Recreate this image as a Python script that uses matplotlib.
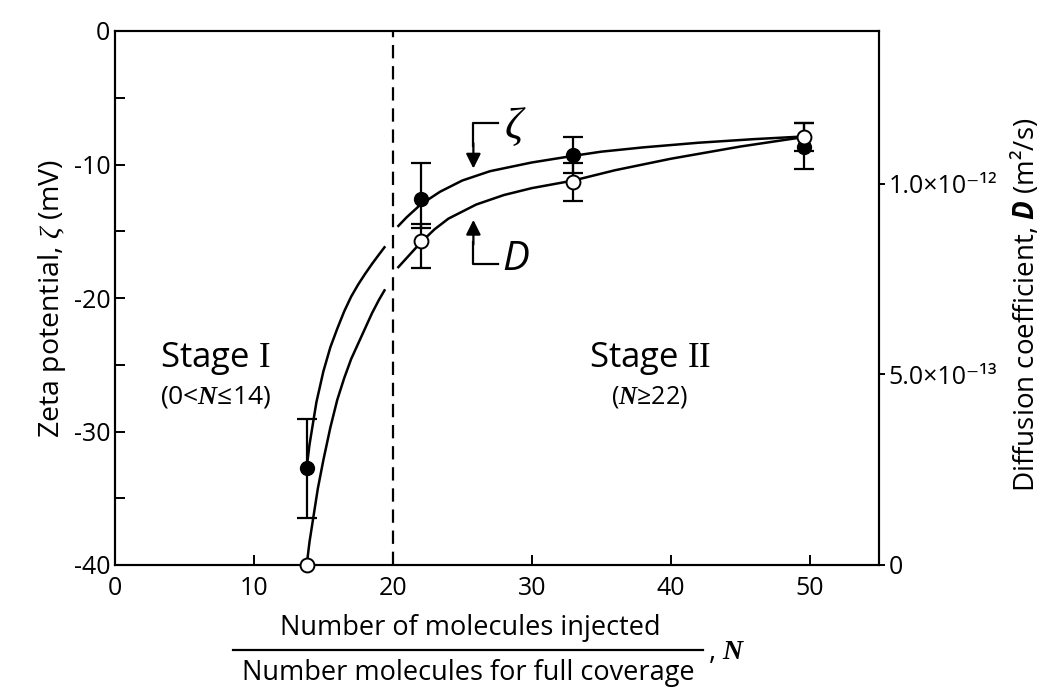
import matplotlib
matplotlib.use('Agg')
import matplotlib.pyplot as plt
from matplotlib.lines import Line2D
import numpy as np

plt.rcParams['font.family'] = ['Open Sans', 'DejaVu Sans']
plt.rcParams['axes.unicode_minus'] = False
plt.rcParams['mathtext.fontset'] = 'custom'
plt.rcParams['mathtext.rm'] = 'Liberation Serif'
plt.rcParams['mathtext.it'] = 'Liberation Serif:italic'
plt.rcParams['mathtext.bf'] = 'Liberation Serif:bold:italic'
plt.rcParams['mathtext.sf'] = 'Open Sans:bold:italic'

# measured points
n_pts = [13.8, 22, 33, 49.6]
zeta = [-32.7, -12.6, -9.3, -8.7]
zeta_lo = [3.75, 2.17, 1.34, 1.65]
zeta_hi = [3.6, 2.7, 1.38, 1.8]
diff = [0.0, 0.849e-12, 1.005e-12, 1.122e-12]
diff_lo = [0.0, 0.071e-12, 0.05e-12, 0.037e-12]
diff_hi = [0.0, 0.045e-12, 0.05e-12, 0.037e-12]

# fitted curves (two pieces each, broken at the dashed line)
zeta_n1 = [13.8, 14.0, 14.5, 15.0, 15.5, 16.0, 16.5, 17.0, 17.5, 18.0, 18.5, 19.0, 19.4]
zeta_c1 = [-32.7, -31.0, -27.8, -25.5, -23.7, -22.3, -21.0, -19.9, -19.0, -18.2, -17.45, -16.75, -16.2]
zeta_n2 = [20.4, 21, 22, 23.4, 25, 27, 30, 33, 35, 38, 42, 46, 49.6]
zeta_c2 = [-14.6, -13.95, -13.0, -12.04, -11.2, -10.5, -9.85, -9.35, -9.04, -8.72, -8.37, -8.1, -7.9]
d_n1 = [13.8, 14.0, 14.3, 14.6, 15.0, 15.5, 16.0, 16.5, 17.0, 17.5, 18.0, 18.5, 19.0, 19.4]
d_c1 = [0.0, 0.06, 0.13, 0.2, 0.275, 0.36, 0.433, 0.49, 0.54, 0.58, 0.62, 0.66, 0.695, 0.72]
d_n2 = [20.4, 21, 22, 23, 24, 26, 28, 30, 33, 36, 40, 45, 49.6]
d_c2 = [0.781, 0.805, 0.845, 0.88, 0.908, 0.945, 0.97, 0.988, 1.008, 1.035, 1.065, 1.097, 1.122]

xticks = [0, 10, 20, 30, 40, 50]
yticks = [-40, -30, -20, -10, 0]
rticks = [0, 5e-13, 1e-12]
rtick_labels = ['0', '5.0×10⁻¹³', '1.0×10⁻¹²']

fig = plt.figure(figsize=(10.5, 6.96), dpi=100)
ax = fig.add_axes([115/1050, 1-565/696, (879-115)/1050, (565-31)/696])
ax2 = ax.twinx()

ax.set_xlim(0, 55)
ax.set_ylim(-40, 0)
ax2.set_ylim(0, 1.4e-12)

for sp in ax.spines.values():
    sp.set_linewidth(1.5)
for sp in ax2.spines.values():
    sp.set_linewidth(1.5)

ax.set_xticks(xticks)
ax.set_yticks(yticks)
ax.set_yticks([-35, -25, -15, -5], minor=True)
ax.tick_params(axis='both', which='both', direction='in', length=7, width=1.4,
               labelsize=18, top=False, right=False)
ax.tick_params(axis='x', pad=8)
ax2.set_yticks(rticks)
ax2.set_yticklabels(rtick_labels)
ax2.tick_params(axis='y', direction='out', length=4, width=1.4, labelsize=18, pad=3)

# stage divider
ax.axvline(20, color='black', lw=1.6, ls=(0, (6, 3.5)), zorder=1)

# curves
ax.plot(zeta_n1, zeta_c1, color='black', lw=1.8, zorder=2)
ax.plot(zeta_n2, zeta_c2, color='black', lw=1.8, zorder=2)
ax2.plot(d_n1, np.array(d_c1) * 1e-12, color='black', lw=1.8, zorder=2)
ax2.plot(d_n2, np.array(d_c2) * 1e-12, color='black', lw=1.8, zorder=2)

# error bars + points
ax.errorbar(n_pts, zeta, yerr=[zeta_lo, zeta_hi], fmt='o', color='black',
            ms=10, capsize=7, elinewidth=1.6, capthick=1.6, zorder=4)
ax2.errorbar(n_pts[1:], diff[1:], yerr=[diff_lo[1:], diff_hi[1:]], fmt='none',
             ecolor='black', capsize=7, elinewidth=1.6, capthick=1.6, zorder=3)
ax2.plot(n_pts, diff, 'o', mfc='white', mec='black', mew=1.4, ms=10,
         zorder=5, clip_on=False)

# arrows for the two curves
ax.plot([27.6, 25.8, 25.8], [-6.9, -6.9, -8.6], color='black', lw=1.6)
ax.annotate('', xy=(25.8, -10.3), xytext=(25.8, -8.4),
            arrowprops=dict(arrowstyle='-|>', color='black', lw=1.6,
                            mutation_scale=22, shrinkA=0, shrinkB=0))
ax.text(28.0, -7.2, r'$\zeta$', fontsize=32, va='center', ha='left')
ax.plot([27.6, 25.8, 25.8], [-17.45, -17.45, -15.8], color='black', lw=1.6)
ax.annotate('', xy=(25.8, -14.15), xytext=(25.8, -16.0),
            arrowprops=dict(arrowstyle='-|>', color='black', lw=1.6,
                            mutation_scale=22, shrinkA=0, shrinkB=0))
ax.text(27.9, -17.1, 'D', fontsize=29, fontstyle='italic', va='center', ha='left')

# stage labels
ax.text(7.2, -24.5, r'Stage $\mathrm{I}$', fontsize=25, ha='center', va='center')
ax.text(7.2, -27.4, r'(0<$\mathbf{N}$≤14)', fontsize=19, ha='center', va='center')
ax.text(38.5, -24.5, r'Stage $\mathrm{II}$', fontsize=25, ha='center', va='center')
ax.text(38.5, -27.4, r'($\mathbf{N}$≥22)', fontsize=18, ha='center', va='center')

# axis labels
ax.set_ylabel(r'Zeta potential, $\zeta$ (mV)', fontsize=20.5, labelpad=4)
fig.text(1025/1050, 1-305/696, r'Diffusion coefficient, $\mathsf{D}$ (m²/s)',
         rotation=90, fontsize=20, ha='center', va='center')

fig.text(470/1050, 1-628/696, 'Number of molecules injected', fontsize=19.5,
         ha='center', va='center')
fig.text(468/1050, 1-673/696, 'Number molecules for full coverage', fontsize=19.5,
         ha='center', va='center')
fig.add_artist(Line2D([233/1050, 703/1050], [1-650/696, 1-650/696],
                      transform=fig.transFigure, color='black', lw=1.6))
fig.text(708/1050, 1-652/696, r', $\mathbf{N}$', fontsize=20, ha='left', va='center')

fig.savefig('out.png', dpi=100)
